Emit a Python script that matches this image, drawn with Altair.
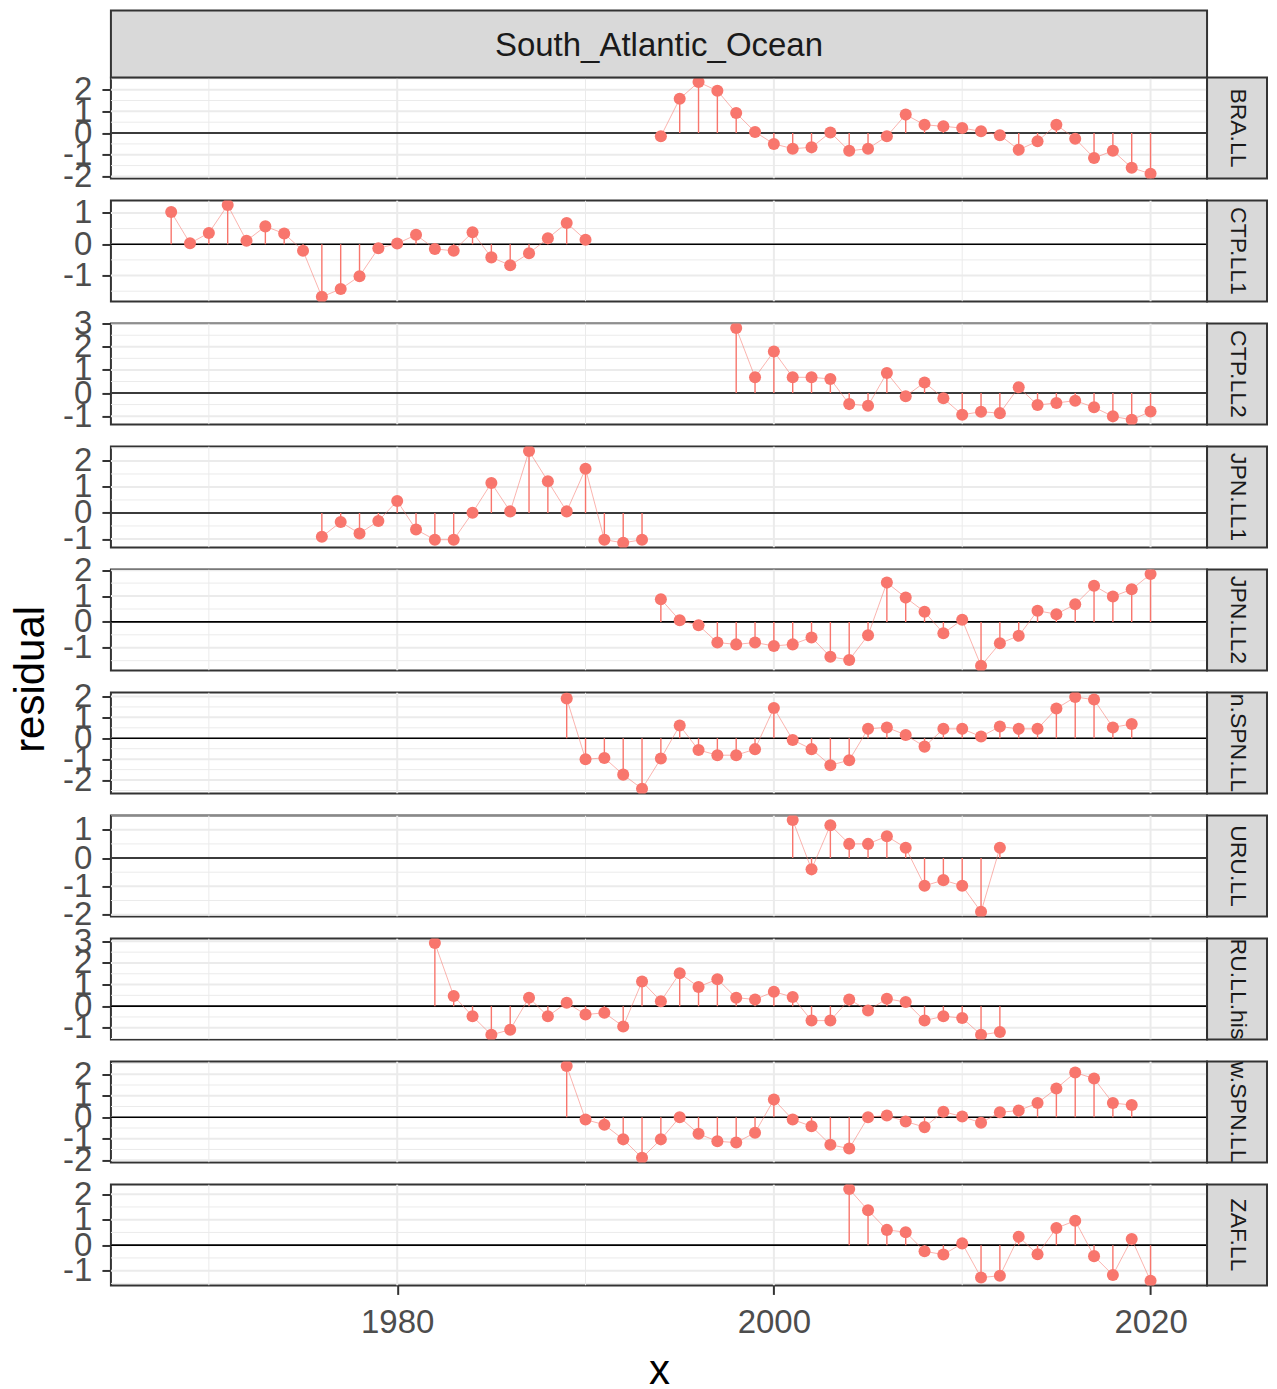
import altair as alt
import pandas as pd

region = "South_Atlantic_Ocean"
series_labels = ["BRA.LL", "CTP.LL1", "CTP.LL2", "JPN.LL1", "JPN.LL2",
                 "n.SPN.LL", "URU.LL", "RU.LL.his", "w.SPN.LL", "ZAF.LL"]
series_first_year = [1994, 1968, 1998, 1976, 1994, 1989, 2001, 1982, 1989, 2004]

bra_ll = [-0.15, 1.58, 2.35, 1.95, 0.92, 0.05, -0.5, -0.72, -0.66, 0.03, -0.82, -0.72,
          -0.15, 0.85, 0.38, 0.31, 0.23, 0.08, -0.1, -0.77, -0.38, 0.38, -0.26, -1.15,
          -0.82, -1.6, -1.88]
ctp_ll1 = [1.03, 0.03, 0.36, 1.25, 0.11, 0.57, 0.34, -0.21, -1.68, -1.43, -1.02, -0.13,
           0.02, 0.3, -0.15, -0.21, 0.38, -0.42, -0.67, -0.29, 0.19, 0.68, 0.14]
ctp_ll2 = [2.81, 0.68, 1.8, 0.68, 0.68, 0.61, -0.48, -0.55, 0.87, -0.14, 0.46, -0.23,
           -0.94, -0.81, -0.87, 0.25, -0.52, -0.43, -0.33, -0.62, -1.01, -1.16, -0.8]
jpn_ll1 = [-0.92, -0.35, -0.79, -0.31, 0.46, -0.64, -1.03, -1.03, 0.01, 1.15, 0.06, 2.38,
           1.22, 0.06, 1.7, -1.03, -1.15, -1.03]
jpn_ll2 = [0.88, 0.06, -0.13, -0.8, -0.87, -0.8, -0.93, -0.87, -0.6, -1.35, -1.47, -0.52,
           1.52, 0.94, 0.39, -0.44, 0.08, -1.7, -0.83, -0.54, 0.43, 0.3, 0.68, 1.4, 0.98,
           1.26, 1.85]
n_spn_ll = [1.9, -1.0, -0.94, -1.74, -2.42, -0.97, 0.61, -0.56, -0.81, -0.81, -0.52, 1.45,
            -0.08, -0.52, -1.29, -1.05, 0.45, 0.52, 0.16, -0.4, 0.45, 0.45, 0.08, 0.56,
            0.45, 0.45, 1.42, 1.97, 1.85, 0.52, 0.68]
uru_ll = [1.34, -0.4, 1.16, 0.5, 0.5, 0.77, 0.36, -0.98, -0.78, -0.98, -1.9, 0.36]
uru_ll_hist = [2.92, 0.47, -0.47, -1.33, -1.09, 0.39, -0.47, 0.16, -0.39, -0.31, -0.94,
               1.14, 0.23, 1.52, 0.89, 1.25, 0.39, 0.31, 0.67, 0.42, -0.67, -0.67, 0.31,
               -0.2, 0.34, 0.19, -0.67, -0.47, -0.55, -1.33, -1.2]
w_spn_ll = [2.38, -0.11, -0.35, -1.03, -1.89, -1.03, 0.0, -0.77, -1.12, -1.18, -0.72, 0.82,
            -0.11, -0.42, -1.28, -1.46, 0.0, 0.08, -0.2, -0.46, 0.26, 0.03, -0.26, 0.23,
            0.31, 0.66, 1.34, 2.08, 1.8, 0.66, 0.57]
zaf_ll = [2.2, 1.37, 0.6, 0.51, -0.24, -0.37, 0.07, -1.27, -1.2, 0.33, -0.36, 0.67, 0.96,
          -0.43, -1.17, 0.24, -1.4]

series_values = [bra_ll, ctp_ll1, ctp_ll2, jpn_ll1, jpn_ll2, n_spn_ll, uru_ll,
                 uru_ll_hist, w_spn_ll, zaf_ll]

x_ticks = [1980, 2000, 2020]
x_minor = [1970, 1990, 2010]

W, H = 1097, 101
XDOM = [1964.8, 2023.0]
PINK = "#F8766D"
FONT = "Liberation Sans"


def make_panel(i):
    lab = series_labels[i]
    vals = series_values[i]
    yrs = list(range(series_first_year[i], series_first_year[i] + len(vals)))
    df = pd.DataFrame({"x": yrs, "y": vals})
    lo, hi = min(vals), max(vals)
    pad = 0.05 * (hi - lo)
    ydom = [lo - pad, hi + pad]
    xs = alt.Scale(domain=XDOM, nice=False, zero=False)
    ys = alt.Scale(domain=ydom, nice=False, zero=False)
    yticks = [v for v in range(-4, 5) if ydom[0] - 0.05 <= v <= ydom[1] + 0.05]
    ymaj = [v for v in range(-4, 5) if ydom[0] <= v <= ydom[1]]
    ymin = [v / 2 for v in range(-9, 10) if v % 2 != 0 and ydom[0] <= v / 2 <= ydom[1]]
    last = i == len(series_labels) - 1

    if last:
        xaxis = alt.Axis(values=x_ticks, title="x", labelExpr="toString(datum.value)",
                         labelFontSize=33,
                         labelColor="#4D4D4D", tickColor="#333333", tickSize=9,
                         tickWidth=2, domain=False, grid=False, labelPadding=12,
                         labelFlush=False, labelOverlap=False, titleFontSize=42,
                         titleFontWeight="normal", titleColor="black", titlePadding=11,
                         labelFont=FONT, titleFont=FONT)
    else:
        xaxis = None
    yaxis = alt.Axis(values=yticks, title=None, labelExpr="toString(datum.value)",
                     labelFontSize=33,
                     labelColor="#4D4D4D", tickColor="#333333", tickSize=9, tickWidth=2,
                     domain=False, grid=False, labelPadding=10, labelOverlap=False,
                     labelFlush=False, labelFont=FONT)

    def X():
        return alt.X("x:Q", scale=xs, axis=xaxis)

    def Y():
        return alt.Y("y:Q", scale=ys, axis=yaxis)

    layers = []
    layers.append(alt.Chart(pd.DataFrame({"x": x_minor})).mark_rule(
        color="#EBEBEB", strokeWidth=1, clip=True).encode(x=X()))
    layers.append(alt.Chart(pd.DataFrame({"x": x_ticks})).mark_rule(
        color="#EBEBEB", strokeWidth=2, clip=True).encode(x=X()))
    layers.append(alt.Chart(pd.DataFrame({"y": ymin})).mark_rule(
        color="#EBEBEB", strokeWidth=1, clip=True).encode(y=Y()))
    layers.append(alt.Chart(pd.DataFrame({"y": ymaj})).mark_rule(
        color="#EBEBEB", strokeWidth=2, clip=True).encode(y=Y()))
    layers.append(alt.Chart(pd.DataFrame({"y": [0]})).mark_rule(
        color="black", strokeWidth=1.6, clip=True).encode(y=Y()))
    layers.append(alt.Chart(df).mark_rule(color=PINK, strokeWidth=1.4, clip=True).encode(
        x=X(), y=Y(), y2=alt.datum(0)))
    layers.append(alt.Chart(df).mark_line(color=PINK, strokeWidth=1, opacity=0.55,
                                          clip=True).encode(x=X(), y=Y()))
    layers.append(alt.Chart(df).mark_circle(color=PINK, size=145, opacity=1,
                                            clip=True).encode(x=X(), y=Y()))

    lab_df = pd.DataFrame({"lab": [lab]})
    layers.append(alt.Chart(lab_df).mark_rect(
        fill="#D9D9D9", stroke="#333333", strokeWidth=2).encode(
        x=alt.value(W), x2=alt.value(W + 60), y=alt.value(0), y2=alt.value(H)))
    layers.append(alt.Chart(lab_df).mark_text(
        angle=90, fontSize=23, font=FONT, color="#1A1A1A", align="center",
        baseline="middle").encode(text="lab:N", x=alt.value(W + 31), y=alt.value(H / 2)))

    if i == 0:
        top_df = pd.DataFrame({"lab": [region]})
        layers.append(alt.Chart(top_df).mark_rect(fill="white").encode(
            x=alt.value(-102), x2=alt.value(-101), y=alt.value(-68), y2=alt.value(-67)))
        layers.append(alt.Chart(top_df).mark_rect(
            fill="#D9D9D9", stroke="#333333", strokeWidth=2).encode(
            x=alt.value(0), x2=alt.value(W), y=alt.value(-67), y2=alt.value(0)))
        layers.append(alt.Chart(top_df).mark_text(
            fontSize=33, font=FONT, color="#1A1A1A", align="center",
            baseline="middle").encode(text="lab:N", x=alt.value(W / 2), y=alt.value(-32)))
    if i == 4:
        ttl_df = pd.DataFrame({"lab": ["residual"]})
        layers.append(alt.Chart(ttl_df).mark_text(
            angle=270, fontSize=42, font=FONT, color="black", align="center",
            baseline="alphabetic").encode(text="lab:N", x=alt.value(-66.5),
                                          y=alt.value(110)))

    return alt.layer(*layers).properties(width=W, height=H)


panels = [make_panel(i) for i in range(len(series_labels))]

chart = alt.vconcat(*panels, spacing=22.1, bounds="flush").properties(
    padding=0
).configure_view(stroke="#333333", strokeWidth=2).configure_text(font=FONT)

chart.save("out.html", embed_options={"renderer": "svg", "actions": False})
